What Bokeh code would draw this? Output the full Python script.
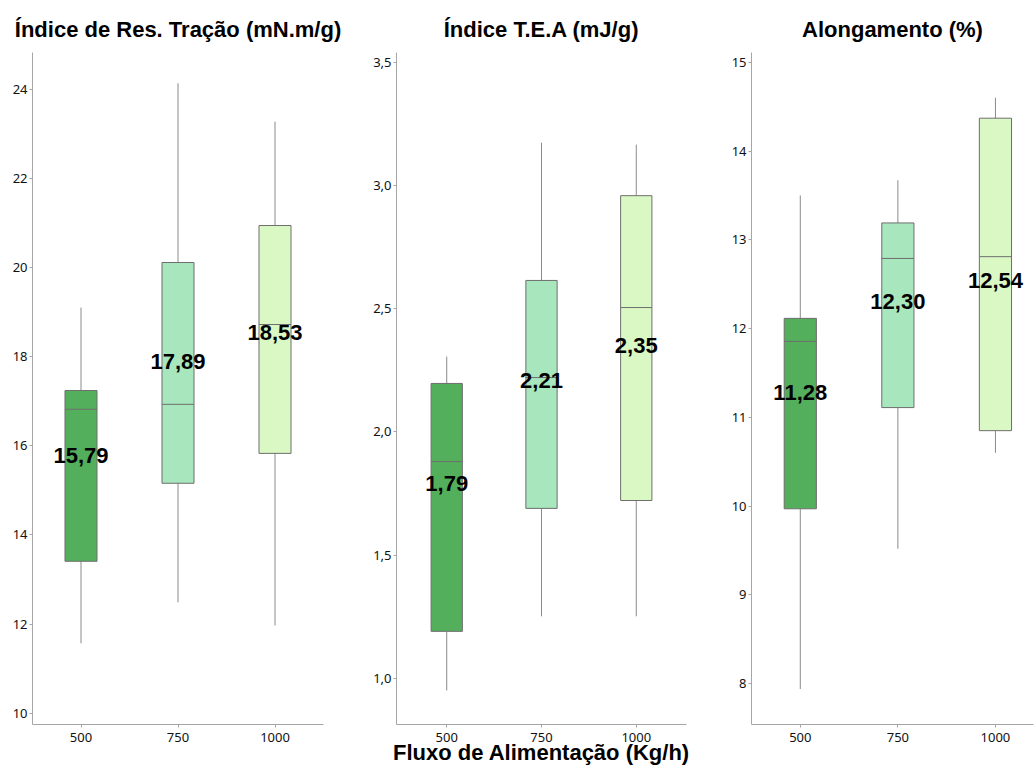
from bokeh.plotting import figure
from bokeh.layouts import row
from bokeh.models import FixedTicker, Range1d, ColumnDataSource
from bokeh.core.properties import value
from bokeh.embed import file_html
from bokeh.resources import INLINE

# ---------------- data ----------------
groups = ["500", "750", "1000"]
group_pos = [0, 1, 2]
colors = ["#53AF5B", "#A8E6BE", "#DAF8C4"]

# Índice de Res. Tração (mN.m/g)
tra_low = [11.57, 12.49, 11.97]
tra_q1 = [13.41, 15.16, 15.83]
tra_med = [16.82, 16.93, 18.72]
tra_q3 = [17.24, 20.11, 20.94]
tra_high = [19.10, 24.13, 23.27]
tra_mean = [15.79, 17.89, 18.53]
tra_mean_txt = ["15,79", "17,89", "18,53"]
tra_ticks = [10, 12, 14, 16, 18, 20, 22, 24]
tra_tick_labels = ["10", "12", "14", "16", "18", "20", "22", "24"]

# Índice T.E.A (mJ/g)
tea_low = [0.951, 1.252, 1.252]
tea_q1 = [1.191, 1.690, 1.722]
tea_med = [1.880, 2.221, 2.505]
tea_q3 = [2.197, 2.615, 2.959]
tea_high = [2.306, 3.174, 3.166]
tea_mean = [1.79, 2.21, 2.35]
tea_mean_txt = ["1,79", "2,21", "2,35"]
tea_ticks = [1.0, 1.5, 2.0, 2.5, 3.0, 3.5]
tea_tick_labels = ["1,0", "1,5", "2,0", "2,5", "3,0", "3,5"]

# Alongamento (%)
alo_low = [7.94, 9.52, 10.60]
alo_q1 = [9.97, 11.11, 10.85]
alo_med = [11.856, 12.79, 12.81]
alo_q3 = [12.115, 13.19, 14.37]
alo_high = [13.50, 13.67, 14.60]
alo_mean = [11.28, 12.30, 12.54]
alo_mean_txt = ["11,28", "12,30", "12,54"]
alo_ticks = [8, 9, 10, 11, 12, 13, 14, 15]
alo_tick_labels = ["8", "9", "10", "11", "12", "13", "14", "15"]

x_label = "Fluxo de Alimentação (Kg/h)"
titles = ["Índice de Res. Tração (mN.m/g)", "Índice T.E.A (mJ/g)", "Alongamento (%)"]

BOX_W = 0.33
TICK_FONT = "Noto Sans"
BOLD_FONT = "Liberation Sans"


def make_panel(title, low, q1, med, q3, high, mean, mean_txt, yticks, ylabels,
               yrange, xrange, width, bl, br, xlabel=None):
    p = figure(width=width, height=774, output_backend="svg", toolbar_location=None,
               x_range=Range1d(*xrange), y_range=Range1d(*yrange),
               min_border_left=bl, min_border_right=br,
               min_border_top=52, min_border_bottom=50, tools="")
    p.title.text = title
    p.title.align = "center"
    p.title.text_font = BOLD_FONT
    p.title.text_font_size = "22px"
    p.title.text_font_style = "bold"
    p.title.text_color = "black"
    p.title.standoff = 22
    p.outline_line_color = None
    p.grid.visible = False
    p.background_fill_color = "white"
    p.border_fill_color = "white"

    src = ColumnDataSource(dict(
        x=group_pos,
        x0=[g - BOX_W / 2 for g in group_pos],
        x1=[g + BOX_W / 2 for g in group_pos],
        low=low, q1=q1, med=med, q3=q3, high=high,
        mean=mean, txt=mean_txt, color=colors))

    p.segment(x0="x", x1="x", y0="q3", y1="high", source=src, line_color="#8a8a8a", line_width=1)
    p.segment(x0="x", x1="x", y0="q1", y1="low", source=src, line_color="#8a8a8a", line_width=1)
    p.vbar(x="x", width=BOX_W, bottom="q1", top="q3", source=src,
           fill_color="color", line_color="#6e6e6e", line_width=1)
    p.segment(x0="x0", x1="x1", y0="med", y1="med", source=src, line_color="#6e6e6e", line_width=1)
    p.text(x="x", y="mean", text="txt", source=src, text_align="center",
           text_baseline="middle", text_font=value(BOLD_FONT), text_font_style="bold",
           text_font_size="22px", text_color="black")

    for ax in (p.xaxis[0], p.yaxis[0]):
        ax.axis_line_color = "#a6a6a6"
        ax.major_tick_line_color = "#a6a6a6"
        ax.minor_tick_line_color = None
        ax.major_tick_out = 3
        ax.major_tick_in = 0
        ax.major_label_text_font = TICK_FONT
        ax.major_label_text_font_size = "13px"
        ax.major_label_text_color = "#111111"

    p.yaxis.ticker = FixedTicker(ticks=yticks)
    p.yaxis.major_label_overrides = {t: l for t, l in zip(yticks, ylabels)}
    p.yaxis.major_label_standoff = 2
    p.xaxis.ticker = FixedTicker(ticks=group_pos)
    p.xaxis.major_label_overrides = {g: l for g, l in zip(group_pos, groups)}
    p.xaxis.major_label_standoff = 5
    if xlabel:
        p.xaxis.axis_label = xlabel
        p.xaxis.axis_label_text_font = BOLD_FONT
        p.xaxis.axis_label_text_font_size = "22px"
        p.xaxis.axis_label_text_font_style = "bold"
        p.xaxis.axis_label_text_color = "black"
        p.xaxis.axis_label_standoff = -5
    return p


p1 = make_panel(titles[0], tra_low, tra_q1, tra_med, tra_q3, tra_high, tra_mean, tra_mean_txt,
                tra_ticks, tra_tick_labels, (9.75, 24.82), (-0.5, 2.5), 345, 32, 22)
p2 = make_panel(titles[1], tea_low, tea_q1, tea_med, tea_q3, tea_high, tea_mean, tea_mean_txt,
                tea_ticks, tea_tick_labels, (0.813, 3.54), (-0.53, 2.53), 375, 51, 34, xlabel=x_label)
p3 = make_panel(titles[2], alo_low, alo_q1, alo_med, alo_q3, alo_high, alo_mean, alo_mean_txt,
                alo_ticks, alo_tick_labels, (7.54, 15.11), (-0.5, 2.39), 314, 31, 1)

layout = row(p1, p2, p3)
open("out.html", "w").write(file_html(layout, INLINE))
